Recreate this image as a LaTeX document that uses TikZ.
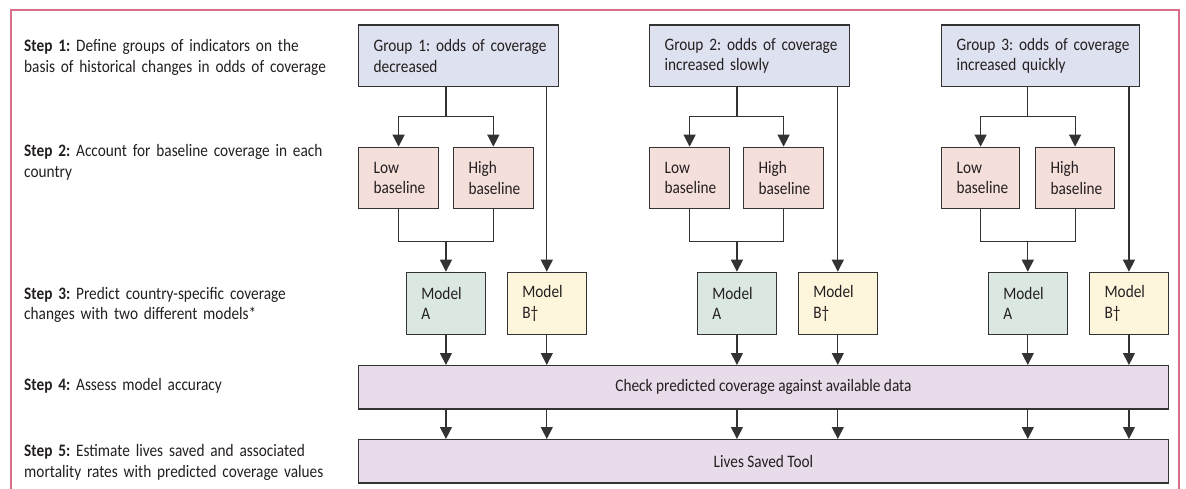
\documentclass[tikz,border=0pt]{standalone}
\usepackage{fontspec}
\setmainfont{Carlito}[FakeStretch=0.875]
\usetikzlibrary{arrows.meta,positioning,calc}
\definecolor{txt}{HTML}{231F20}
\definecolor{edge}{HTML}{333333}
\definecolor{frame}{HTML}{D9708A}
\definecolor{grp}{HTML}{DEE1EF}
\definecolor{base}{HTML}{F5DFDB}
\definecolor{mda}{HTML}{DBE8E2}
\definecolor{mdb}{HTML}{FEF6DC}
\definecolor{chkc}{HTML}{E8DCEA}
\frenchspacing
\hyphenpenalty=10000
\exhyphenpenalty=10000
\newcommand\oneline[1]{\mbox{#1}}
\begin{document}
\begin{tikzpicture}[x=1pt,y=-1pt,
  every node/.style={font=\fontsize{17.5}{20.5}\selectfont,text=txt},
  bx/.style={draw=edge,line width=1.2pt,anchor=north west,inner xsep=15pt,inner ysep=0pt,align=left},
  grpbox/.style={bx,fill=grp,minimum height=61.5pt},
  basebox/.style={bx,fill=base,minimum height=61.3pt},
  mabox/.style={bx,fill=mda,minimum height=62.3pt},
  mbbox/.style={bx,fill=mdb,minimum height=62.3pt},
  widebox/.style={draw=edge,line width=1.2pt,anchor=north west,fill=chkc,minimum height=43.3pt,minimum width=809.7pt,inner sep=0pt,align=center},
  steplbl/.style={anchor=base west,inner sep=0pt,align=left,text width=330pt},
  ln/.style={draw=edge,line width=1.2pt},
  arr/.style={ln,-{Triangle[length=12pt,width=12pt]}},
]
\useasboundingbox (0,0) rectangle (1186,489);
\draw[frame,line width=2pt] (11,489) -- (11,10) -- (1179,10) -- (1179,489);

% step labels
\node[steplbl] (s1) at (24,51.7) {\textbf{Step 1:} Define groups of indicators on the\\basis of historical changes in odds of coverage};
\node[steplbl] (s2) at (24,157) {\textbf{Step 2:} Account for baseline coverage in each\\country};
\node[steplbl] (s3) at (24,299.3) {\textbf{Step 3:} Predict country-specific coverage\\changes with two different models*};
\node[steplbl] (s4) at (24,390) {\textbf{Step 4:} Assess model accuracy};
\node[steplbl] (s5) at (24,456.7) {\textbf{Step 5:} Estimate lives saved and associated\\mortality rates with predicted coverage values};

% group boxes
\node[grpbox,text width=170pt] (g1) at (358,24.5) {\oneline{Group 1: odds of coverage}\\decreased};
\node[grpbox,text width=170pt] (g2) at (649,24.5) {\oneline{Group 2: odds of coverage}\\\oneline{increased slowly}};
\node[grpbox,text width=168pt] (g3) at (941,24.5) {\oneline{Group 3: odds of coverage}\\\oneline{increased quickly}};

% baseline boxes
\node[basebox,text width=50pt] (lo1) at (358,146.7) {Low\\baseline};
\node[basebox,text width=49.5pt] (hi1) at (453,146.7) {High\\baseline};
\node[basebox,text width=50pt] (lo2) at (649,146.7) {Low\\baseline};
\node[basebox,text width=50pt] (hi2) at (743,146.7) {High\\baseline};
\node[basebox,text width=48pt] (lo3) at (941,146.7) {Low\\baseline};
\node[basebox,text width=49pt] (hi3) at (1035,146.7) {High\\baseline};

% model boxes
\node[mabox,text width=49.3pt] (ma1) at (405.7,271.7) {Model\\A};
\node[mbbox,text width=49pt] (mb1) at (506.7,271.7) {Model\\B†};
\node[mabox,text width=49.3pt] (ma2) at (696.7,271.7) {Model\\A};
\node[mbbox,text width=49pt] (mb2) at (797.7,271.7) {Model\\B†};
\node[mabox,text width=49pt] (ma3) at (987.7,271.7) {Model\\A};
\node[mbbox,text width=48.7pt] (mb3) at (1089,271.7) {Model\\B†};

% wide boxes
\node[widebox] (chk) at (358,365) {Check predicted coverage against available data};
\node[widebox] (lives) at (358,439) {Lives Saved Tool};

% connectors
\foreach \i in {1,2,3}{
  \draw[ln] (g\i.south -| ma\i.north) -- ++(0,29.7) coordinate (j\i);
  \draw[arr] (j\i) -| (lo\i.north);
  \draw[arr] (j\i) -| (hi\i.north);
  \draw[arr] (g\i.south -| mb\i.north) -- (mb\i.north);
  \draw[ln] (lo\i.south) -- ++(0,32) coordinate (k\i) -| (hi\i.south);
  \draw[arr] (k\i -| ma\i.north) -- (ma\i.north);
  \draw[arr] (ma\i.south) -- (ma\i.south |- chk.north);
  \draw[arr] (mb\i.south) -- (mb\i.south |- chk.north);
  \draw[arr] (ma\i.south |- chk.south) -- (ma\i.south |- lives.north);
  \draw[arr] (mb\i.south |- chk.south) -- (mb\i.south |- lives.north);
}
\end{tikzpicture}
\end{document}
